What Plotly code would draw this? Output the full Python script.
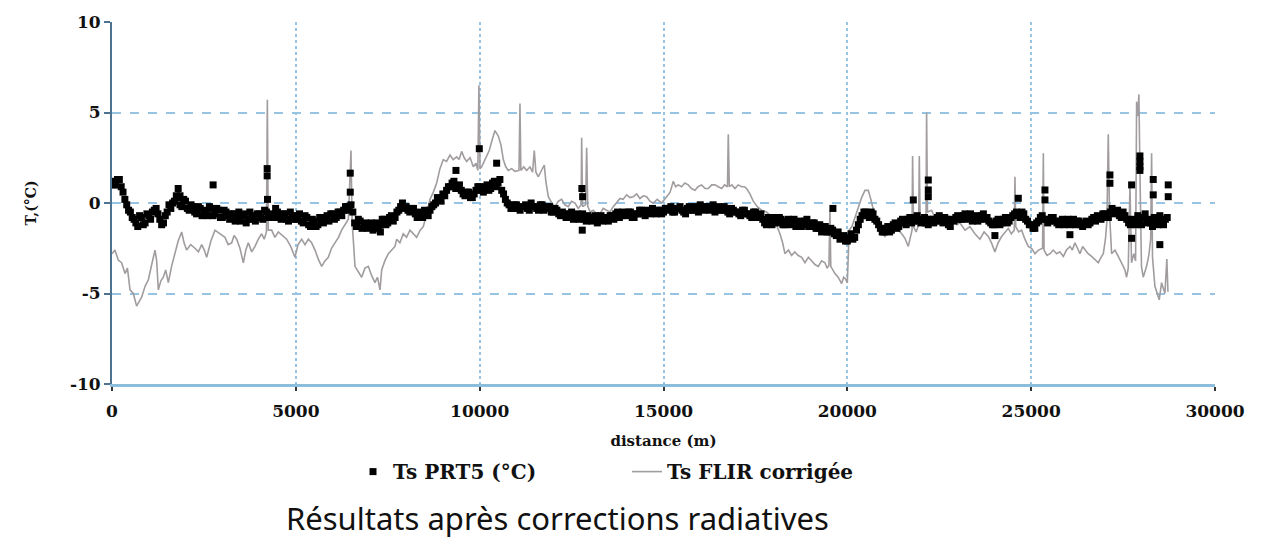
import plotly.graph_objects as go

# --- Ts PRT5 (°C): two readings per 100 m along the transect --------------
prt5_step = 100
# readings at 0, 100, 200, ... m
prt5_t = [
    1.2, 1.0, 1.3, 0.6, -0.1, -0.5, -0.9, -1.3, -0.8, -1.1,
    -0.7, -0.5, -0.3, -0.9, -1.1, -0.5, -0.3, 0.1, 0.3, -0.2,
    0.1, -0.4, -0.2, -0.6, -0.3, -0.5, -0.7, -0.3, -0.6, -0.4,
    -0.8, -0.5, -0.9, -0.6, -0.8, -1.0, -0.6, -0.9, -0.7, -1.0,
    -0.6, -0.9, -0.5, -0.7, -0.8, -0.5, -0.9, -0.6, -1.0, -0.7,
    -0.9, -0.6, -1.1, -0.8, -1.3, -1.0, -1.2, -0.9, -0.8, -1.0,
    -0.6, -0.8, -0.5, -0.4, -0.2, -0.1, -1.1, -0.9, -1.4, -1.1,
    -1.3, -1.5, -1.1, -1.2, -0.9, -1.1, -0.7, -0.8, -0.4, 0.0,
    -0.2, -0.5, -0.3, -0.8, -0.6, -0.4, -0.7, -0.2, 0.0, 0.2,
    0.5, 0.7, 0.9, 1.2, 0.9, 0.7, 0.4, 0.6, 0.3, 0.7,
    0.9, 0.6, 1.0, 0.8, 1.2, 1.1, 0.7, 0.2, -0.1, -0.3,
    -0.1, -0.4, -0.2, -0.3, 0.0, -0.2, -0.4, -0.1, -0.3, -0.2,
    -0.5, -0.4, -0.7, -0.6, -0.8, -0.5, -0.7, -0.9, -0.6, -1.0,
    -0.8, -0.9, -1.1, -0.7, -0.9, -1.0, -0.7, -0.6, -0.8, -0.5,
    -0.7, -0.5, -0.8, -0.6, -0.4, -0.7, -0.5, -0.3, -0.6, -0.4,
    -0.5, -0.3, -0.2, -0.5, -0.3, -0.4, -0.6, -0.2, -0.4, -0.3,
    -0.1, -0.4, -0.2, -0.3, -0.5, -0.2, -0.4, -0.3, -0.6, -0.4,
    -0.5, -0.7, -0.4, -0.6, -0.8, -0.5, -0.7, -0.9, -1.2, -1.0,
    -0.8, -1.1, -0.9, -1.2, -0.9, -1.1, -1.3, -1.0, -1.2, -0.9,
    -1.3, -1.1, -1.4, -1.6, -1.3, -1.6, -1.5, -1.8, -2.0, -1.8,
    -2.1, -1.7, -1.9, -1.2, -0.7, -0.5, -0.8, -0.6, -1.0, -1.4,
    -1.6, -1.3, -1.5, -1.1, -1.3, -0.9, -1.2, -0.8, -1.0, -0.7,
    -1.1, -0.8, -1.2, -0.9, -1.0, -0.7, -1.1, -0.9, -1.3, -1.0,
    -0.7, -0.9, -0.6, -0.8, -1.0, -0.7, -0.9, -0.6, -0.8, -1.1,
    -1.2, -0.9, -1.1, -0.8, -1.0, -0.7, -0.5, -0.8, -0.6, -1.0,
    -1.2, -1.4, -1.0, -0.7, -0.9, -1.0, -0.8, -1.1, -1.0, -1.2,
    -0.9, -1.1, -1.2, -1.0, -1.3, -1.0, -1.1, -0.8, -0.7, -0.9,
    -0.6, -0.8, -0.3, -0.5, -0.7, -0.5, -0.9, -1.2, -1.0, -0.7,
    -1.2, -0.6, -0.9, -1.3, -1.0, -0.7, -1.2, -0.8,
]
# readings at 50, 150, 250, ... m
prt5_t_mid = [
    1.0, 1.3, 0.9, 0.2, -0.4, -0.8, -1.1, -0.7, -1.2, -0.6,
    -0.9, -0.4, -0.6, -1.2, -0.7, -0.1, 0.0, 0.4, -0.1, 0.2,
    -0.3, -0.1, -0.5, -0.2, -0.7, -0.4, -0.2, -0.7, -0.3, -0.8,
    -0.4, -0.7, -0.6, -1.0, -0.5, -0.7, -1.1, -0.5, -0.9, -0.6,
    -0.8, -0.4, -0.8, -0.6, -0.3, -0.8, -0.6, -0.9, -0.5, -0.9,
    -0.7, -1.0, -0.7, -1.2, -0.9, -1.3, -0.8, -1.1, -0.7, -0.6,
    -0.9, -0.5, -0.7, -0.2, -0.4, -0.5, -1.3, -1.0, -1.2, -1.4,
    -1.1, -1.3, -1.4, -0.9, -1.2, -0.8, -1.0, -0.5, -0.2, -0.3,
    -0.4, -0.3, -0.6, -0.5, -0.8, -0.6, -0.4, -0.1, 0.3, 0.1,
    0.4, 0.9, 1.1, 0.8, 1.0, 0.5, 0.6, 0.3, 0.5, 0.9,
    0.7, 0.9, 0.7, 1.1, 0.9, 1.3, 0.5, 0.0, -0.3, -0.1,
    -0.3, -0.2, -0.1, -0.4, -0.2, -0.3, -0.1, -0.4, -0.2, -0.5,
    -0.3, -0.6, -0.5, -0.8, -0.6, -0.9, -0.6, -0.7, -0.9, -0.7,
    -1.0, -0.7, -0.8, -1.0, -0.8, -0.7, -0.9, -0.5, -0.7, -0.6,
    -0.5, -0.8, -0.6, -0.4, -0.6, -0.4, -0.6, -0.5, -0.4, -0.6,
    -0.3, -0.4, -0.5, -0.3, -0.2, -0.5, -0.3, -0.4, -0.2, -0.5,
    -0.3, -0.2, -0.4, -0.1, -0.3, -0.4, -0.2, -0.5, -0.3, -0.5,
    -0.6, -0.4, -0.6, -0.7, -0.5, -0.8, -0.6, -1.1, -0.8, -1.2,
    -1.0, -0.8, -1.2, -1.0, -1.2, -0.9, -1.1, -1.3, -1.0, -1.3,
    -1.1, -1.4, -1.2, -1.4, -1.6, -1.4, -1.7, -1.6, -1.9, -2.1,
    -1.9, -2.0, -1.5, -0.9, -0.5, -0.7, -0.5, -0.9, -1.2, -1.6,
    -1.4, -1.6, -1.2, -1.4, -1.0, -1.1, -0.9, -1.1, -0.8, -1.0,
    -0.9, -1.1, -0.9, -1.1, -0.8, -1.0, -0.8, -1.2, -0.9, -0.8,
    -0.9, -0.7, -0.9, -0.6, -0.8, -1.0, -0.7, -0.9, -1.0, -1.2,
    -1.0, -1.2, -0.9, -1.1, -0.8, -0.6, -0.7, -0.5, -0.9, -1.2,
    -1.4, -1.1, -0.8, -0.9, -1.1, -0.8, -1.0, -1.2, -0.9, -1.0,
    -1.2, -0.9, -1.0, -1.2, -1.1, -1.2, -0.9, -1.0, -0.8, -0.6,
    -0.8, -0.5, -0.6, -0.4, -0.8, -0.7, -1.1, -0.9, -1.2, -0.9,
    -0.8, -1.1, -1.1, -0.8, -1.2, -0.9, -0.9,
]
prt5_d = [i * prt5_step for i in range(len(prt5_t))]
prt5_d_mid = [i * prt5_step + prt5_step // 2 for i in range(len(prt5_t_mid))]

# isolated PRT5 readings standing out of the main band
prt5_extra_d = [1800, 1850, 2750, 4220, 4220, 4230, 6480, 6480, 7300, 9355,
                9990, 10462, 12780, 12800, 12790, 19608, 21794, 22202, 22202,
                22202, 24014, 24650, 25375, 25375, 26054, 27142, 27142, 27732,
                27732, 27958, 27958, 27958, 27958, 28320, 28320, 28500, 28728,
                28728]
prt5_extra_t = [0.8, 0.4, 1.0, 1.9, 1.5, 0.2, 1.65, 0.6, -1.6, 1.8,
                3.0, 2.2, 0.8, 0.35, -1.5, -0.3, 0.17, 1.27, 0.72,
                0.35, -1.8, 0.26, 0.72, 0.17, -1.75, 1.55, 1.09, 1.0,
                -1.95, 2.6, 2.3, 2.0, 1.8, 1.3, 0.45, -2.3, 1.0,
                0.35]

# --- Ts FLIR corrigée: corrected thermal-camera surface temperature ------
flir_d = [
    0, 80, 170, 260, 355, 420, 490, 580, 670, 740, 806, 900, 988, 1080, 1170, 1215, 1260,
    1330, 1395, 1460, 1532, 1620, 1713, 1800, 1895, 1960, 2030, 2140, 2257, 2350, 2440, 2510, 2575,
    2690, 2800, 2940, 3073, 3160, 3255, 3320, 3391, 3480, 3572, 3640, 3708, 3800, 3890, 3980, 4071,
    4140, 4200, 4225, 4250, 4343, 4430, 4524, 4640, 4750, 4860, 4977, 5060, 5159, 5250, 5340, 5430,
    5521, 5610, 5703, 5790, 5884, 5970, 6065, 6160, 6246, 6340, 6428, 6500, 6530, 6609, 6700, 6790,
    6880, 6971, 7060, 7152, 7220, 7290, 7335, 7420, 7516, 7600, 7697, 7743, 7830, 7922, 8010, 8104,
    8200, 8286, 8380, 8467, 8560, 8649, 8740, 8830, 8920, 9011, 9100, 9192, 9280, 9374, 9440, 9510,
    9580, 9646, 9740, 9827, 9900, 9950, 9980, 10010, 10054, 10120, 10190, 10260, 10327, 10416, 10507, 10580,
    10643, 10710, 10778, 10870, 10960, 11070, 11096, 11120, 11200, 11278, 11368, 11440, 11485, 11530, 11595, 11680,
    11758, 11800, 11867, 11960, 12048, 12140, 12230, 12320, 12410, 12500, 12592, 12680, 12760, 12774, 12800, 12880,
    12910, 12940, 13010, 13090, 13180, 13271, 13360, 13454, 13540, 13634, 13720, 13816, 13900, 13997, 14090, 14177,
    14270, 14359, 14450, 14542, 14630, 14722, 14830, 14950, 15085, 15180, 15267, 15330, 15401, 15493, 15580, 15673,
    15760, 15855, 15940, 16037, 16130, 16217, 16310, 16399, 16490, 16582, 16660, 16740, 16762, 16790, 16860, 16943,
    17030, 17125, 17200, 17261, 17350, 17441, 17550, 17669, 17800, 17941, 18050, 18167, 18240, 18303, 18400, 18485,
    18570, 18665, 18760, 18847, 18940, 19030, 19120, 19209, 19300, 19391, 19450, 19500, 19527, 19550, 19600, 19663,
    19750, 19845, 19900, 19951, 20000, 20050, 20125, 20210, 20297, 20390, 20479, 20569, 20640, 20705, 20770, 20840,
    20930, 21022, 21110, 21205, 21300, 21386, 21480, 21567, 21657, 21760, 21775, 21800, 21870, 21940, 21957, 21980,
    22060, 22140, 22156, 22180, 22292, 22380, 22472, 22590, 22700, 22800, 22900, 22980, 23062, 23200, 23334, 23470,
    23606, 23720, 23833, 23920, 24014, 24100, 24197, 24290, 24378, 24460, 24540, 24559, 24580, 24660, 24741, 24830,
    24922, 25010, 25104, 25200, 25310, 25331, 25350, 25430, 25512, 25600, 25694, 25780, 25875, 25960, 26057, 26120,
    26190, 26260, 26327, 26400, 26463, 26550, 26645, 26730, 26826, 26900, 26962, 27020, 27060, 27097, 27130, 27188,
    27280, 27369, 27440, 27505, 27550, 27596, 27640, 27687, 27730, 27790, 27840, 27868, 27900, 27930, 27960, 28000,
    28048, 28100, 28139, 28200, 28250, 28276, 28300, 28366, 28420, 28483, 28547, 28600, 28638, 28690, 28720,
]
flir_t = [
    -2.8, -2.6, -3.15, -3.3, -3.9, -3.6, -4.8, -5.0, -5.7, -5.4, -5.2, -4.6, -4.25, -3.4, -2.6, -3.2, -4.8,
    -4.3, -4.1, -3.7, -4.4, -3.5, -2.8, -2.1, -1.6, -2.2, -2.6, -2.3, -2.5, -2.7, -2.3, -2.6, -3.0,
    -2.1, -1.5, -1.7, -1.9, -2.3, -2.2, -1.8, -2.0, -2.5, -3.3, -2.6, -2.2, -2.7, -2.4, -2.0, -1.7,
    -2.0, -1.6, 5.7, -1.5, -1.5, -1.9, -1.6, -1.8, -2.0, -2.4, -3.0, -2.3, -2.0, -2.3, -2.0, -2.2,
    -2.6, -3.1, -3.5, -3.2, -3.0, -2.5, -2.2, -1.9, -1.5, -1.2, -0.9, 2.9, -1.0, -3.5, -3.8, -4.1,
    -3.6, -3.5, -4.0, -4.4, -4.1, -4.8, -3.7, -3.2, -2.8, -2.6, -2.4, -2.0, -2.2, -1.7, -1.9, -1.5,
    -1.7, -1.9, -1.5, -1.3, -0.6, 0.2, 0.6, 1.1, 1.9, 2.4, 2.3, 2.65, 2.4, 2.55, 2.4, 2.85,
    2.5, 2.3, 2.5, 2.0, 2.2, 1.8, 6.5, 1.9, 2.0, 2.3, 2.6, 2.9, 3.4, 4.0, 3.7, 3.2,
    2.4, 2.0, 1.8, 1.9, 1.75, 1.8, 5.5, 1.8, 2.0, 1.8, 2.0, 1.7, 2.9, 1.7, 1.45, 1.8,
    2.1, 1.2, 0.35, 0.0, -0.2, 0.1, 0.2, -0.1, -0.2, 0.1, 0.0, -0.3, -0.1, 3.6, -0.2, -0.1,
    3.05, -0.2, -0.5, -0.4, -0.6, -0.6, -0.3, -0.4, -0.5, -0.2, 0.0, 0.25, 0.2, 0.45, 0.3, 0.35,
    0.5, 0.25, 0.4, 0.35, 0.1, 0.0, 0.2, 0.0, 0.35, 0.6, 1.2, 0.9, 1.0, 0.9, 1.1, 1.0,
    0.8, 0.7, 0.9, 1.0, 0.8, 0.8, 1.0, 1.0, 0.9, 0.8, 1.0, 0.9, 3.8, 0.9, 1.0, 0.8,
    1.0, 0.9, 0.9, 0.8, 0.5, 0.1, -0.2, -0.4, -0.5, -0.75, -1.1, -1.7, -2.2, -2.8, -2.6, -2.9,
    -2.7, -2.9, -3.0, -3.3, -3.0, -3.2, -3.4, -3.5, -3.2, -3.3, -3.6, -3.45, -0.4, -3.5, -3.7, -3.9,
    -4.1, -4.45, -4.1, -4.2, -4.4, -1.5, -1.3, -0.8, -0.2, 0.3, 0.7, 0.7, 0.2, -0.4, -1.0, -1.5,
    -1.6, -1.85, -1.5, -1.65, -1.4, -1.5, -1.7, -1.95, -2.4, -1.5, 2.6, -1.3, -1.6, -1.2, 2.6, -1.0,
    -1.3, -0.9, 5.0, -0.5, -0.4, -0.8, -1.1, -1.0, -0.8, -1.1, -0.9, -1.2, -1.1, -1.5, -1.3, -1.7,
    -2.0, -1.6, -1.85, -2.2, -2.7, -2.2, -1.85, -1.6, -1.4, -1.7, -1.5, 1.45, -1.3, -1.6, -1.5, -2.0,
    -2.4, -2.5, -2.8, -2.6, -2.5, 2.75, -2.6, -2.9, -2.8, -2.6, -2.8, -2.7, -2.95, -2.6, -2.4, -2.6,
    -2.2, -2.5, -2.8, -2.4, -2.6, -2.8, -2.95, -3.1, -3.3, -3.0, -2.8, -2.0, -1.0, 3.8, -0.5, -2.8,
    -2.6, -2.95, -3.2, -3.5, -3.7, -4.1, -3.6, 0.9, -3.3, -2.8, -3.2, 5.6, 4.8, 6.0, 1.5, -3.5,
    -4.1, -3.8, -3.5, -2.9, -2.0, 2.75, -3.0, -4.6, -4.9, -5.35, -4.4, -4.8, -5.0, -3.1, -4.9,
]

x_ticks = [0, 5000, 10000, 15000, 20000, 25000, 30000]
y_ticks = [-10, -5, 0, 5, 10]

serif = "DejaVu Serif"
ink = "#111111"
grid_blue = "#96c4e2"

fig = go.Figure()

fig.add_trace(go.Scatter(
    x=flir_d, y=flir_t, mode="lines", name="<b>Ts FLIR corrigée</b>",
    line=dict(color="#a19c9f", width=1.6), legendrank=2,
))
fig.add_trace(go.Scatter(
    x=prt5_d + prt5_d_mid + prt5_extra_d,
    y=prt5_t + prt5_t_mid + prt5_extra_t,
    mode="markers", name="<b>Ts PRT5 (°C)</b>",
    marker=dict(symbol="square", size=7, color="#000000", line=dict(width=0)),
    legendrank=1,
))

fig.update_layout(
    width=1262, height=542,
    margin=dict(l=112, r=47, t=22, b=158),
    paper_bgcolor="white", plot_bgcolor="white",
    font=dict(family=serif, color=ink),
    showlegend=True,
    legend=dict(
        orientation="h", x=0.2185, xanchor="left", y=-0.242, yanchor="middle",
        font=dict(family=serif, size=20, color=ink),
        entrywidth=229, entrywidthmode="pixels", itemwidth=30,
        bgcolor="rgba(0,0,0,0)",
    ),
    xaxis=dict(
        range=[0, 30000], tickvals=x_ticks,
        ticktext=[f"<b>{v}</b>" for v in x_ticks],
        tickfont=dict(family=serif, size=17, color=ink),
        showline=True, linecolor="#8cbddd", linewidth=2.5,
        ticks="outside", ticklen=4, tickcolor="#333333", tickwidth=2,
        ticklabelstandoff=6,
        showgrid=True, gridcolor=grid_blue, gridwidth=1.5, griddash="dot",
        zeroline=False,
        title=dict(text="<b>distance (m)</b>", font=dict(family=serif, size=15, color=ink),
                   standoff=16),
    ),
    yaxis=dict(
        range=[-10, 10], tickvals=y_ticks,
        ticktext=[f"<b>{v}</b>" for v in y_ticks],
        tickfont=dict(family=serif, size=17, color=ink),
        showline=True, linecolor="#4d7391", linewidth=2,
        ticks="outside", ticklen=6, tickcolor="#4d7391", tickwidth=1.5,
        showgrid=True, gridcolor=grid_blue, gridwidth=1.5, griddash="dash",
        zeroline=False,
        title=dict(text="<b>T,(°C)</b>", font=dict(family=serif, size=14, color=ink),
                   standoff=30),
    ),
)

fig.add_annotation(
    text="Résultats après corrections radiatives",
    xref="paper", yref="paper", x=0.4043, y=-0.370,
    xanchor="center", yanchor="middle", showarrow=False,
    font=dict(family="Noto Sans", size=31, color="#111111"),
)

fig.write_html("out.html")
